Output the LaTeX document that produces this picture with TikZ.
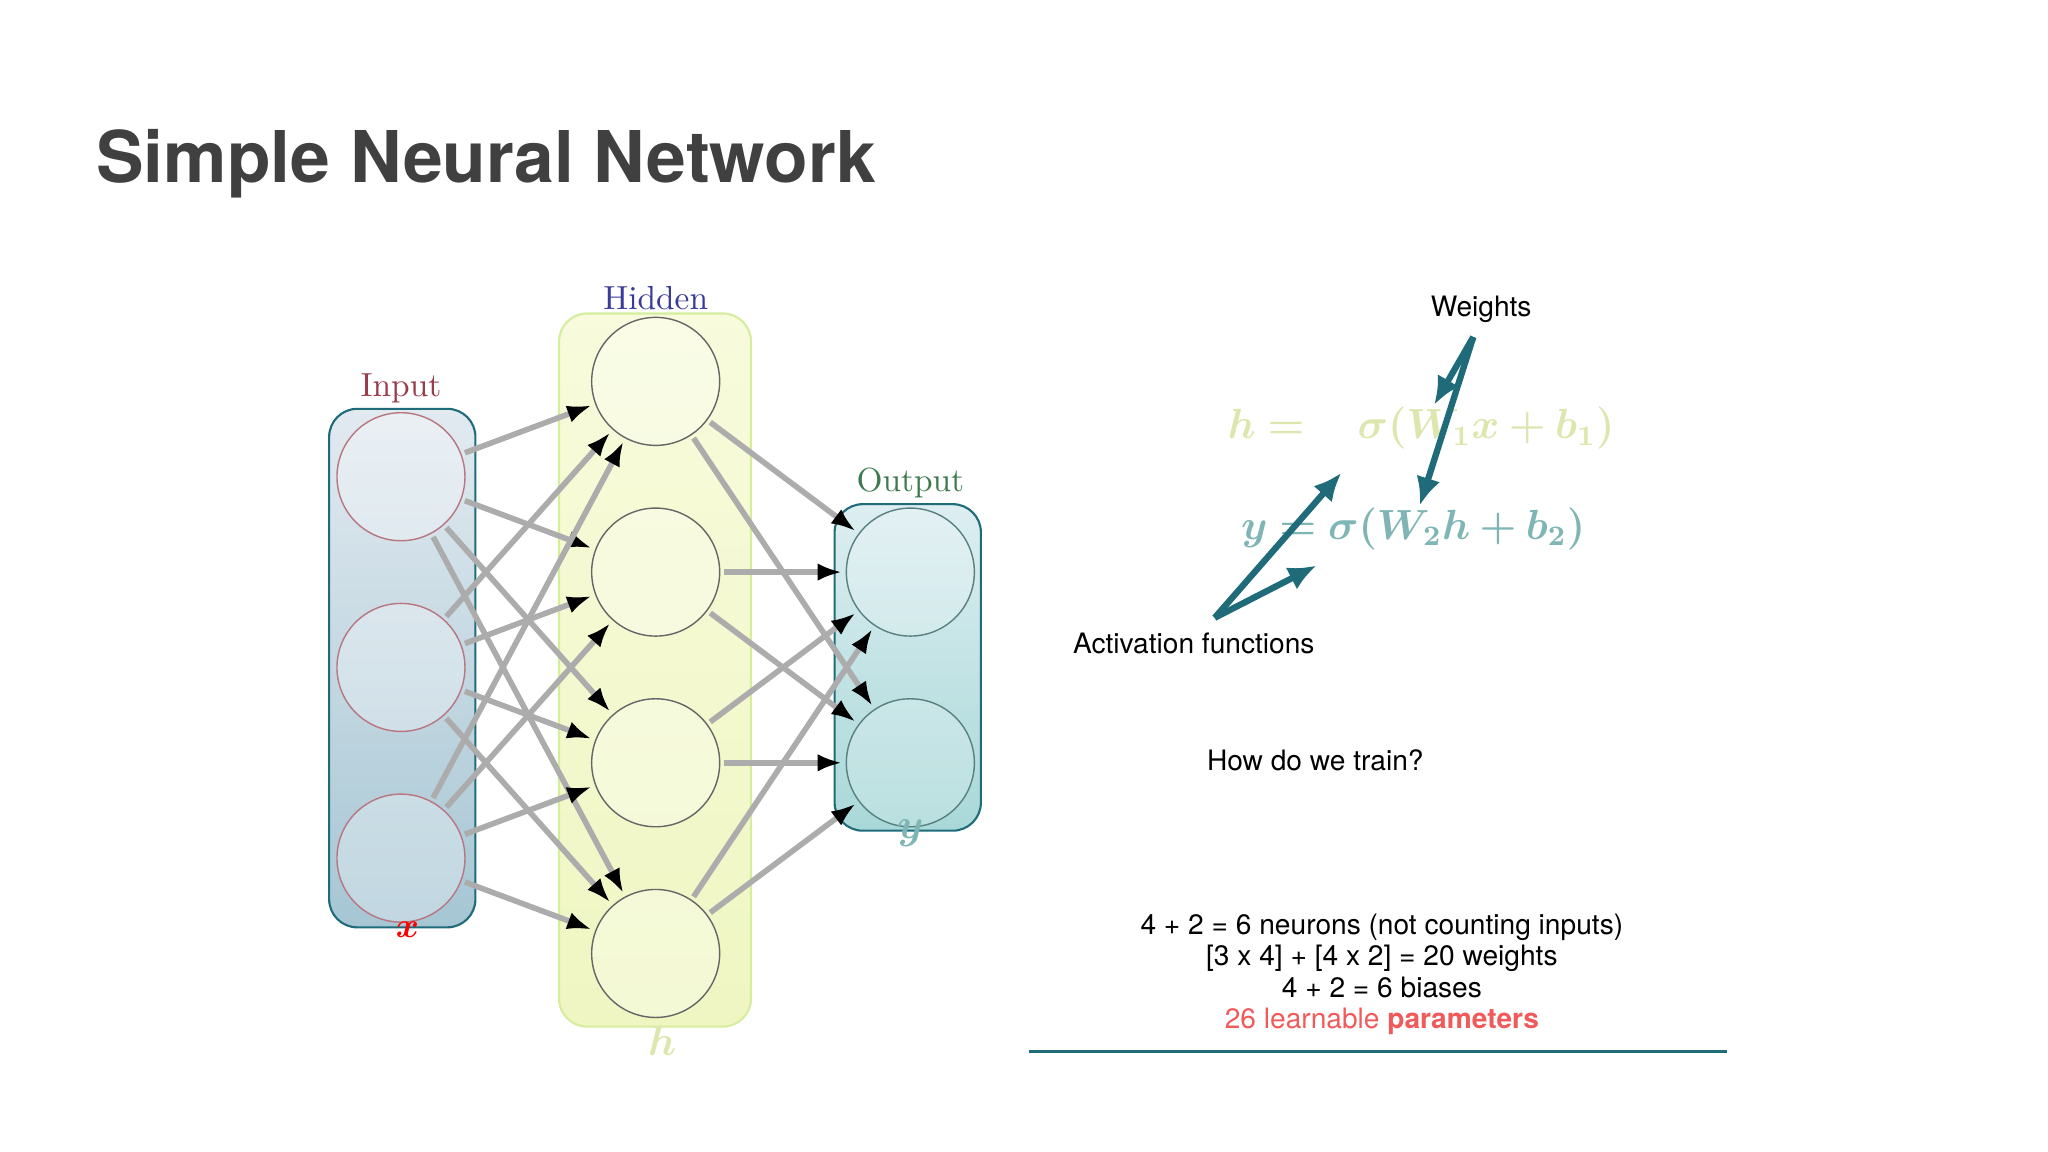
\documentclass[tikz,border=0pt]{standalone}
\usepackage{amsmath,amssymb,bm}
\usepackage{fontspec}
\setmainfont{TeX Gyre Heros}
\newfontfamily\lmfont{lmroman10-regular.otf}
\usepackage{tikz}
\usetikzlibrary{arrows.meta,positioning}
\definecolor{titlegray}{HTML}{404040}
\definecolor{tealline}{HTML}{1F6B7A}
\definecolor{inred}{HTML}{9A3B4A}
\definecolor{hidblue}{HTML}{3A3A9A}
\definecolor{outgreen}{HTML}{3F7A4F}
\definecolor{hpale}{HTML}{DDE6AE}
\definecolor{ypale}{HTML}{7FB5B5}
\definecolor{paramred}{HTML}{F05A5A}
\definecolor{intop}{HTML}{E2EAF0}
\definecolor{inbot}{HTML}{A6C6D4}
\definecolor{hidtop}{HTML}{F8FBDC}
\definecolor{hidbot}{HTML}{EFF6C2}
\definecolor{outtop}{HTML}{DDEEF1}
\definecolor{outbot}{HTML}{A9D8D8}

\begin{document}
\begin{tikzpicture}[x=0.013061cm, y=-0.013061cm,
    every node/.style={font=\fontsize{8}{10}\selectfont},
    neuron/.style={circle, draw=gray!80!black, minimum size=1.28cm, inner sep=0pt},
    layer/.style={rounded corners=8pt, draw=tealline, line width=0.6pt},
    edge/.style={draw=gray!65, line width=1.6pt, shorten <=1pt, shorten >=1pt,
        -{Latex[length=7pt,width=5pt,black]}},
    note/.style={draw=tealline, line width=1.8pt, -{Latex[length=8pt,width=7pt]}},
    layername/.style={font=\lmfont\fontsize{9.5}{10}\selectfont},
    eq/.style={font=\fontsize{11.8}{14}\selectfont}
]
    \useasboundingbox (0,0) rectangle (1568,882);

    % Title
    \node[anchor=west, font=\bfseries\fontsize{20.3}{24}\selectfont, text=titlegray] (title) at (64,125) {Simple Neural Network};

    % Layer boxes
    \shade[layer, top color=intop, bottom color=inbot] (252,313) rectangle (364,710);
    \shade[layer, draw=yellow!60!green!40, top color=hidtop, bottom color=hidbot] (428,240) rectangle (575,786);
    \shade[layer, top color=outtop, bottom color=outbot] (639,386) rectangle (751,636);

    % Neurons
    \foreach \i/\yy in {1/365, 2/511, 3/657}
        \node[neuron, draw=inred!70, fill=white, fill opacity=0.3] (in\i) at (307,\yy) {};
    \foreach \i/\yy in {1/292, 2/438, 3/584, 4/730}
        \node[neuron, fill=white, fill opacity=0.3] (hid\i) at (502,\yy) {};
    \foreach \i/\yy in {1/438, 2/584}
        \node[neuron, draw=gray!70!teal, fill=white, fill opacity=0.2] (out\i) at (697,\yy) {};

    % Connections
    \foreach \i in {1,2,3}
        \foreach \j in {1,2,3,4}
            \draw[edge] (in\i) -- (hid\j);
    \foreach \j in {1,2,3,4}
        \foreach \k in {1,2}
            \draw[edge] (hid\j) -- (out\k);

    % Layer labels
    \node[layername, text=inred] (inlab) at (307,297) {Input};
    \node[layername, text=hidblue] (hidlab) at (502,228) {Hidden};
    \node[layername, text=outgreen] (outlab) at (697,370) {Output};
    \node[text=red, font=\fontsize{10}{10}\selectfont] (xlab) at (312,712) {$\bm{x}$};
    \node[text=hpale, font=\fontsize{13}{13}\selectfont] (hlab) at (507,797) {$\bm{h}$};
    \node[text=ypale, font=\fontsize{13}{13}\selectfont] (ylab) at (697,638) {$\bm{y}$};

    % Equations
    \node[eq, text=hpale] (eqh) at (1088,328) {$\bm{h} \bm{=} \quad \bm{\sigma}\bm{(}\bm{W}_{\bm{1}}\bm{x} \bm{+} \bm{b}_{\bm{1}}\bm{)}$};
    \node[eq, text=ypale] (eqy) at (1082,405) {$\bm{y} \bm{=} \bm{\sigma}\bm{(}\bm{W}_{\bm{2}}\bm{h} \bm{+} \bm{b}_{\bm{2}}\bm{)}$};

    % Annotations
    \node (weights) at (1134,237) {Weights};
    \coordinate (wfrom) at (1128,258);
    \coordinate (wto1) at (1098,310);
    \coordinate (wto2) at (1087,387);
    \draw[note] (wfrom) -- (wto1);
    \draw[note] (wfrom) -- (wto2);

    \node (actfun) at (914,493) {Activation functions};
    \coordinate (afrom) at (930,473);
    \coordinate (ato1) at (1027,362);
    \coordinate (ato2) at (1008,433);
    \draw[note] (afrom) -- (ato1);
    \draw[note] (afrom) -- (ato2);

    \node (train) at (1007,582) {How do we train?};

    % Summary
    \node[align=center, font=\fontsize{8}{9}\selectfont] (summary) at (1058,746) {4 + 2 = 6 neurons (not counting inputs)\\\relax
        [3 x 4] + [4 x 2] = 20 weights\\
        4 + 2 = 6 biases\\
        \textcolor{paramred}{26 learnable \textbf{parameters}}};
    \coordinate (rulel) at (788,805);
    \coordinate (ruler) at (1322,805);
    \draw[tealline, line width=0.8pt] (rulel) -- (ruler);
\end{tikzpicture}
\end{document}
